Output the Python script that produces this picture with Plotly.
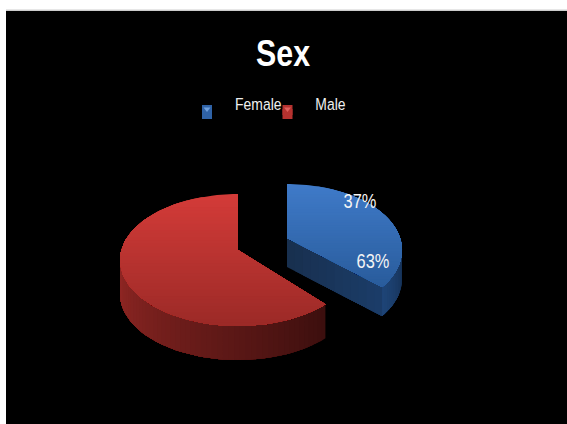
import numpy as np
import plotly.graph_objects as go

# --- data ---
categories = ["Female", "Male"]
values = [37, 63]
pct_labels = ["37%", "63%"]  # printed in this order in the source image
title = "Sex"

# --- style / geometry of the pseudo-3D pie (page pixels) ---
W, H = 567, 424
LEFT, RIGHT, TOP = 6, 567, 11
fem_share = values[0] / sum(values)
full = 360.0
blue_end = fem_share * full - 9   # perspective correction
red_start = fem_share * full - 1

BLUE = dict(cx=287, cy=250, rx=115, ry=66, tip=(287, 238), depth=29,
            top=("#3f7ac8", "#295c9c"), wall=("#1e4476", "#163156"), inner=("#18304f", "#1b3c68"))
RED = dict(cx=238, cy=260, rx=118, ry=66, tip=(238, 250), depth=34,
           top=("#d33b38", "#9c2a27"), wall=("#922724", "#3c0f0e"))


def mix(c1, c2, f):
    a = [int(c1[i:i + 2], 16) for i in (1, 3, 5)]
    b = [int(c2[i:i + 2], 16) for i in (1, 3, 5)]
    return "rgb(%d,%d,%d)" % tuple(round(p + (q - p) * f) for p, q in zip(a, b))


def arc(s, t0, t1, n=60):
    t = np.radians(np.linspace(t0, t1, n))
    return s["cx"] + s["rx"] * np.sin(t), s["cy"] - s["ry"] * np.cos(t)


def clip_top(poly, y0):
    out = []
    for i in range(len(poly)):
        a, b = poly[i], poly[(i + 1) % len(poly)]
        ia, ib = a[1] >= y0, b[1] >= y0
        if ia:
            out.append(a)
        if ia != ib:
            f = (y0 - a[1]) / (b[1] - a[1])
            out.append((a[0] + (b[0] - a[0]) * f, y0))
    return out


fig = go.Figure()


def add_poly(xs, ys, color):
    fig.add_trace(go.Scatter(x=list(xs), y=list(ys), mode="lines", fill="toself",
                             fillcolor=color, line=dict(width=0),
                             hoverinfo="skip", showlegend=False))


def top_face(s, t0, t1, bands=40):
    ax, ay = arc(s, t0, t1, 90)
    poly = [s["tip"]] + list(zip(ax, ay))
    ymin, ymax = min(p[1] for p in poly), max(p[1] for p in poly)
    edges = np.linspace(ymin, ymax, bands + 1)
    # painter's order: every band reaches down to the bottom and is covered by the next
    for i in range(bands):
        part = clip_top(poly, edges[i])
        if len(part) >= 3:
            add_poly([p[0] for p in part], [p[1] for p in part],
                     mix(s["top"][0], s["top"][1], i / (bands - 1)))


def wall(s, t0, t1, c0, c1, n=40):
    ax, ay = arc(s, t0, t1, n + 1)
    for i in range(n):
        xs = list(ax[i:]) + list(ax[i:][::-1])
        ys = list(ay[i:]) + list((ay[i:] + s["depth"])[::-1])
        add_poly(xs, ys, mix(c0, c1, i / (n - 1)))


# male slice: outer wall runs from the front-right corner round to the far left
wall(RED, red_start, 270, RED["wall"][1], RED["wall"][0], n=50)
top_face(RED, red_start, full)

# female slice: inner cut wall, outer wall, top
ex, ey = arc(BLUE, blue_end, blue_end, 1)
tx, ty = BLUE["tip"]
for i in range(12):
    f0 = i / 12
    x0, y0 = tx + (ex[0] - tx) * f0, ty + (ey[0] - ty) * f0
    add_poly([x0, ex[0], ex[0], x0], [y0, ey[0], ey[0] + BLUE["depth"], y0 + BLUE["depth"]],
             mix(BLUE["inner"][0], BLUE["inner"][1], i / 11))
wall(BLUE, 90, blue_end, BLUE["wall"][1], BLUE["wall"][0], n=14)
top_face(BLUE, 0, blue_end)

# legend swatches
for cat, x, base, tipc in zip(categories, [207, 287.5], ["#2f62a6", "#b5322f"], ["#6f9fdc", "#e0605c"]):
    fig.add_trace(go.Scatter(x=[x, x], y=[110, 114], mode="markers", name=cat, showlegend=False, hoverinfo="skip",
                             marker=dict(symbol="square", size=10, color=base, line=dict(width=0))))
    fig.add_trace(go.Scatter(x=[x], y=[109], mode="markers", showlegend=False, hoverinfo="skip",
                             marker=dict(symbol="triangle-down", size=6, color=tipc, line=dict(width=0))))

FONT = "Liberation Sans"
annotations = [
    dict(x=cat_x, y=104, text=cat, showarrow=False, xanchor="center", yanchor="middle",
         font=dict(family=FONT, size=17, color="#f0f0f0"))
    for cat, cat_x in zip(categories, [258.5, 330])
] + [
    dict(x=px, y=py, text=lab, showarrow=False, xanchor="center", yanchor="middle",
         font=dict(family=FONT, size=20, color="#f4f4f4"))
    for lab, px, py in zip(pct_labels, [360, 373], [201, 261])
]

fig.update_layout(
    width=W, height=H, autosize=False,
    margin=dict(l=LEFT, r=W - RIGHT, t=TOP, b=0),
    paper_bgcolor="white", plot_bgcolor="black",
    title=dict(text=f"<b>{title}</b>", x=280 / W, y=1 - 53 / H, xanchor="center", yanchor="middle",
               xref="paper", font=dict(family=FONT, size=37, color="white")),
    xaxis=dict(range=[LEFT, RIGHT], visible=False, fixedrange=True),
    yaxis=dict(range=[H, TOP], visible=False, fixedrange=True),
    shapes=[dict(type="line", xref="paper", yref="paper", x0=0, x1=1, y0=1.002, y1=1.002,
                 line=dict(color="#b4b4b4", width=1))],
    annotations=annotations, showlegend=False,
)
css = (".annotation-text,.gtitle{transform-box:fill-box;transform-origin:center;"
       "transform:scaleX(0.82);}")
fig.write_html("out.html", config=dict(displayModeBar=False),
               post_script="document.body.style.margin='0';document.body.style.overflow='hidden';"
                           "var s=document.createElement('style');s.textContent='" + css + "';"
                           "document.head.appendChild(s);")
